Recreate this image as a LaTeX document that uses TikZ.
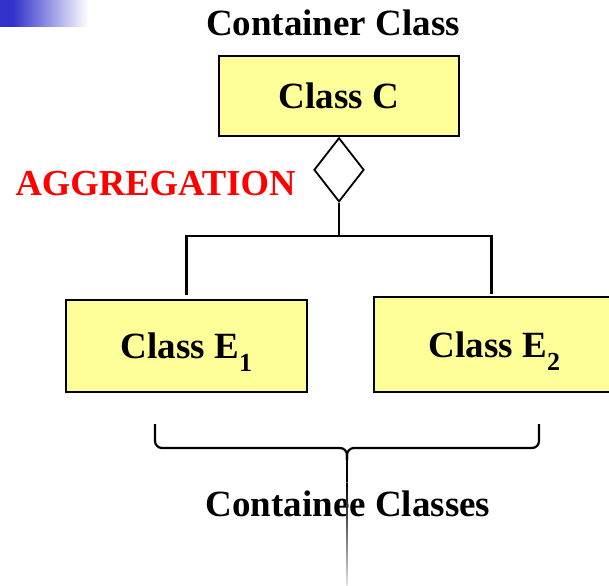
\documentclass[tikz,border=0pt]{standalone}
\usepackage{fontspec}
\setmainfont{Liberation Serif}
\usepackage{tikz}
\usetikzlibrary{positioning,shapes.geometric}
\definecolor{classyellow}{RGB}{255,255,153}
\definecolor{slideblue}{RGB}{51,51,204}
\definecolor{aggred}{RGB}{255,0,0}
\newcommand{\classsub}[1]{\smash{\raisebox{-13pt}{\fontsize{26}{26}\selectfont #1}}}
\tikzset{
  classbox/.style={draw=black, line width=1.8pt, fill=classyellow, inner sep=0pt,
    font=\fontsize{37}{40}\selectfont\bfseries},
  aggdiamond/.style={diamond, draw=black, line width=1.8pt, fill=white, inner sep=0pt,
    minimum width=50pt, minimum height=64pt},
  captiontext/.style={inner sep=0pt, font=\fontsize{37}{40}\selectfont\bfseries},
  link/.style={line width=2.2pt},
  bracestyle/.style={line width=2.2pt, rounded corners=7pt}
}
\begin{document}
\begin{tikzpicture}[x=1pt,y=-1pt]
\useasboundingbox (0,0) rectangle (609,585);
% slide corner decoration
\fill[slideblue] (0,0) rectangle (13,27);
\shade[left color=slideblue, right color=white] (13,0) rectangle (88,27);

\node[captiontext, anchor=base] (title) at (333,36) {Container Class};
\node[classbox, minimum width=240pt, minimum height=80pt] (cc) at (339,96) {Class C};
\node[aggdiamond, below=0pt of cc] (agg) {};
\node[captiontext, text=aggred, font=\fontsize{36.6}{40}\selectfont\bfseries, anchor=base]
  (aggtext) at (155.5,196) {AGGREGATION};

\node[classbox, minimum width=241pt, minimum height=92pt] (e1) at (186.5,346)
  {Class E\classsub{1}};
\node[classbox, minimum width=241pt, minimum height=95pt] (e2) at (494.5,344.5)
  {Class E\classsub{2}};

\coordinate (bus) at ([yshift=-33pt]agg.south);
\draw[link] (agg.south) -- (bus);
\draw[link, shorten <=4pt, shorten >=2pt] (e1.north) |- (bus) -| ([xshift=-3pt]e2.north);

% brace under the containee classes
\coordinate (bracel) at (155,424);
\coordinate (bracer) at (539,424);
\coordinate (bracetip) at (347,460);
\draw[bracestyle] (bracel) |- ([yshift=12pt]bracetip) -- (bracetip);
\draw[bracestyle] (bracer) |- ([yshift=12pt]bracetip) -- (bracetip);

\node[captiontext, anchor=base] (containee) at (348,516) {Containee Classes};

\coordinate (stemmid) at (347,482);
\coordinate (stemend) at (347,585);
\draw[line width=2.2pt] (bracetip) -- (stemmid);
\shade[top color=black, bottom color=black!12]
  ([xshift=-0.7pt]stemmid) rectangle ([xshift=0.7pt]stemend);
\end{tikzpicture}
\end{document}
